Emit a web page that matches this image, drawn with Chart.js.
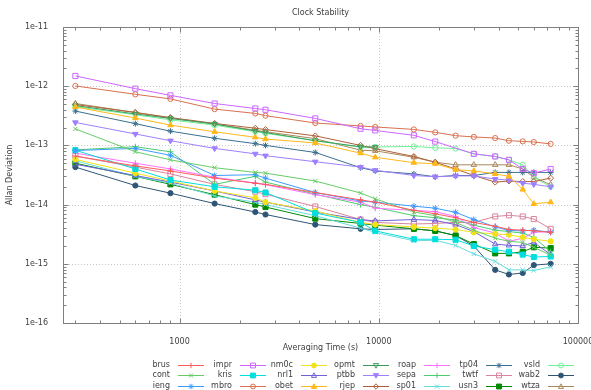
<!DOCTYPE html>
<html><head><meta charset="utf-8">
<script src="https://cdn.jsdelivr.net/npm/chart.js@4"></script>
<style>html,body{margin:0;padding:0;background:#fff}canvas{display:block}</style>
</head><body>
<canvas id="c" width="591" height="390"></canvas>
<script>
// Averaging times (s)
const tau = [300, 600, 900, 1500, 2400, 2700, 4800, 8100, 9600, 15000, 19200, 24300, 30000, 38400, 45000, 52800, 60000, 72900];
const xTicks = [1000, 10000, 100000];
const yTicks = [1e-16, 1e-15, 1e-14, 1e-13, 1e-12, 1e-11];
const names = ["brus","cont","ieng","impr","kris","mbro","nm0c","nrl1","obet","opmt","ptbb","rjep","roap","sepa","sp01","tp04","twtf","usn3","vsld","wab2","wtza"];

const brus = [6.6e-14, 4.5e-14, 3.7e-14, 2.8e-14, 2.3e-14, 2.2e-14, 1.6e-14, 1.2e-14, 1.1e-14, 8.0e-15, 7.0e-15, 6.0e-15, 5.0e-15, 4.3e-15, 3.8e-15, 3.7e-15, 3.6e-15, 3.4e-15];
const cont = [1.9e-13, 7.8e-14, 5.7e-14, 4.2e-14, 3.5e-14, 3.4e-14, 2.5e-14, 1.57e-14, 1.25e-14, 7.5e-15, 6.5e-15, 5.0e-15, 3.7e-15, 2.7e-15, 2.4e-15, 2.3e-15, 1.9e-15, 1.4e-15];
const ieng = [8.2e-14, 8.9e-14, 6.8e-14, 3.1e-14, 3.2e-14, 2.8e-14, 1.6e-14, 1.15e-14, 1.1e-14, 9.4e-15, 8.7e-15, 7.4e-15, 5.6e-15, 4.2e-15, 3.65e-15, 3.6e-15, 3.7e-15, 3.4e-15];
const impr = [1.49e-12, 9.1e-13, 7.0e-13, 5.1e-13, 4.2e-13, 4.0e-13, 2.86e-13, 1.91e-13, 1.79e-13, 1.48e-13, 1.16e-13, null, 7.2e-14, 6.5e-14, 5.7e-14, 4.0e-14, 3.4e-14, 4.0e-14];
const kris = [8.3e-14, 4.0e-14, 2.6e-14, 2.0e-14, 1.75e-14, 1.6e-14, 7.2e-15, 5.0e-15, 3.6e-15, 2.6e-15, 2.6e-15, 2.55e-15, 2.0e-15, 1.73e-15, 1.6e-15, 1.43e-15, 1.3e-15, 1.33e-15];
const mbro = [1.01e-12, 7.3e-13, 6.1e-13, 4.1e-13, 3.47e-13, 3.18e-13, 2.39e-13, 2.13e-13, 2.05e-13, 1.86e-13, 1.66e-13, 1.46e-13, 1.39e-13, 1.33e-13, 1.2e-13, 1.17e-13, 1.14e-13, 1.06e-13];
const nm0c = [5.8e-14, 3.4e-14, 2.5e-14, 1.7e-14, 1.3e-14, 1.1e-14, 7.8e-15, 5.0e-15, 4.6e-15, 4.2e-15, 4.0e-15, 3.8e-15, 3.4e-15, 3.2e-15, 3.1e-15, 2.8e-15, 2.6e-15, 2.4e-15];
const nrl1 = [4.8e-14, 3.1e-14, 2.4e-14, 1.7e-14, 1.2e-14, 1.1e-14, 7.5e-15, 5.6e-15, 5.3e-15, 5.6e-15, 5.4e-15, 4.6e-15, 3.5e-15, 2.15e-15, 2.05e-15, 2.0e-15, 2.3e-15, 1.43e-15];
const obet = [4.45e-13, 2.9e-13, 2.2e-13, 1.7e-13, 1.37e-13, 1.28e-13, 1.1e-13, 7.4e-14, 6.3e-14, 5.1e-14, 4.9e-14, 3.9e-14, 3.7e-14, 3.3e-14, 3.0e-14, 1.8e-14, 1.03e-14, 1.1e-14];
const opmt = [4.7e-13, 3.4e-13, 2.85e-13, 2.3e-13, 1.75e-13, 1.65e-13, 1.2e-13, 9.5e-14, 9.4e-14, null, null, null, null, null, null, null, null, null];
const ptbb = [2.44e-13, 1.56e-13, 1.2e-13, 8.9e-14, 7.2e-14, 6.7e-14, 5.3e-14, 4.3e-14, 3.8e-14, 3.1e-14, 2.95e-14, 3.05e-14, 3.05e-14, 2.7e-14, 2.6e-14, 2.3e-14, 2.2e-14, 2.0e-14];
const rjep = [4.9e-13, 3.6e-13, 2.95e-13, 2.35e-13, 1.95e-13, 1.85e-13, 1.45e-13, 1.0e-13, 8.8e-14, 6.5e-14, 5.2e-14, 4.0e-14, 3.1e-14, 2.4e-14, 2.5e-14, 2.45e-14, 2.45e-14, 2.8e-14];
const roap = [7.4e-14, 5.0e-14, 4.0e-14, 2.9e-14, 2.3e-14, 2.17e-14, 1.47e-14, 1.1e-14, 8.7e-15, 8.0e-15, 7.6e-15, 6.3e-15, 4.1e-15, 3.3e-15, 2.4e-15, 2.7e-15, 3.4e-15, 3.5e-15];
const sepa = [8.4e-14, 9.5e-14, 7.8e-14, 2.2e-14, 3.0e-14, 2.4e-14, 1.5e-14, 1.0e-14, 9.0e-15, 6.5e-15, 6.0e-15, 5.5e-15, 4.5e-15, 3.7e-15, 3.5e-15, 3.3e-15, 2.8e-15, 1.6e-15];
const sp01 = [5.5e-14, 3.0e-14, 2.3e-14, 1.4e-14, 1.1e-14, 1.0e-14, 6.5e-15, 4.0e-15, 3.4e-15, 2.45e-15, 2.5e-15, 2.05e-15, 1.47e-15, 1.1e-15, 7.9e-16, 7.9e-16, 7.7e-16, 8.9e-16];
const tp04 = [3.8e-13, 2.33e-13, 1.74e-13, 1.32e-13, 1.07e-13, 1.0e-13, 7.6e-14, 4.2e-14, 3.7e-14, 3.3e-14, 2.95e-14, 3.1e-14, 3.1e-14, 3.5e-14, 3.5e-14, 3.5e-14, 3.5e-14, 3.5e-14];
const twtf = [6.6e-14, 4.3e-14, 3.3e-14, 2.2e-14, 1.65e-14, 1.5e-14, 9.3e-15, 5.6e-15, 5.0e-15, 4.7e-15, 4.8e-15, 5.0e-15, 5.0e-15, 6.3e-15, 6.6e-15, 6.3e-15, 5.7e-15, 3.9e-15];
const usn3 = [5.0e-14, 3.0e-14, 2.2e-14, 1.47e-14, 1.0e-14, 9.1e-15, 5.8e-15, 4.8e-15, 4.5e-15, 3.9e-15, 3.6e-15, 3.0e-15, 2.15e-15, 1.5e-15, 1.5e-15, 1.6e-15, 1.9e-15, 1.84e-15];
const vsld = [4.5e-13, 3.3e-13, 2.7e-13, 2.2e-13, 1.7e-13, 1.6e-13, 1.2e-13, 9.3e-14, 9.4e-14, 9.6e-14, 9.1e-14, 8.85e-14, 7.2e-14, 6.5e-14, 5.7e-14, 4.7e-14, 2.9e-14, 2.0e-14];
const wab2 = [4.3e-14, 2.1e-14, 1.56e-14, 1.04e-14, 7.5e-15, 6.8e-15, 4.6e-15, 3.9e-15, 3.8e-15, 3.9e-15, 3.6e-15, 3.0e-15, 2.0e-15, 7.9e-16, 6.6e-16, 7.0e-16, 9.5e-16, 1.0e-15];
const wtza = [5.1e-13, 3.6e-13, 2.9e-13, 2.3e-13, 1.8e-13, 1.7e-13, 1.3e-13, 8.3e-14, 8.1e-14, 6.3e-14, 5.2e-14, 4.7e-14, 4.7e-14, 4.7e-14, 4.7e-14, 4.0e-14, 2.9e-14, 2.17e-14];

const values = {brus, cont, ieng, impr, kris, mbro, nm0c, nrl1, obet, opmt, ptbb, rjep, roap, sepa, sp01, tp04, twtf, usn3, vsld, wab2, wtza};

// styles: [color, pointStyle, filled, rotation]
const styles = {
  brus: ['#ff5b5b', 'cross', false, 0],
  cont: ['#66cc66', 'crossRot', false, 0],
  ieng: ['#3d9bff', 'star', false, 0],
  impr: ['#cc66ff', 'rect', false, 0],
  kris: ['#00dede', 'rect', true, 0],
  mbro: ['#d9704f', 'circle', false, 0],
  nm0c: ['#f2e21a', 'circle', true, 0],
  nrl1: ['#7060d8', 'triangle', false, 0],
  obet: ['#ffb81a', 'triangle', true, 0],
  opmt: ['#3c9c5c', 'triangle', false, 180],
  ptbb: ['#9f7fff', 'triangle', true, 180],
  rjep: ['#b0603a', 'rectRot', false, 0],
  roap: ['#ff70ff', 'cross', false, 0],
  sepa: ['#4ccc70', 'cross', false, 0],
  sp01: ['#66dcdc', 'crossRot', false, 0],
  tp04: ['#3a6f8f', 'star', false, 0],
  twtf: ['#d8849c', 'rect', false, 0],
  usn3: ['#008a00', 'rect', true, 0],
  vsld: ['#70f29a', 'circle', false, 0],
  wab2: ['#2f5576', 'circle', true, 0],
  wtza: ['#a8885a', 'triangle', false, 0]
};

const radiusFor = ps => ps === 'rect' ? 3.6 : ps === 'circle' ? 2.6 : ps === 'triangle' ? 3.2 : 3;

const datasets = names.map(n => {
  const [col, ps, filled, rot] = styles[n];
  const pts = [];
  values[n].forEach((v, i) => { if (v != null) pts.push({x: tau[i], y: v}); });
  return {
    label: n, data: pts, borderColor: col, backgroundColor: filled ? col : 'rgba(0,0,0,0)',
    pointStyle: ps, pointRotation: rot, pointRadius: radiusFor(ps), pointBorderWidth: 1,
    pointBackgroundColor: filled ? col : 'rgba(0,0,0,0)', pointBorderColor: col,
    borderWidth: 1, fill: false, tension: 0, spanGaps: true
  };
});

const isDecade = v => Math.abs(Math.log10(v) - Math.round(Math.log10(v))) < 1e-6;
const FONT = 'DejaVu Sans';
const TXT = '#404040';
const AXC = '#808080';

function marker(ctx, n, x, y) {
  const [col, ps, filled, rot] = styles[n];
  const r = 2.7;
  ctx.save();
  ctx.strokeStyle = col; ctx.fillStyle = col; ctx.lineWidth = 1;
  ctx.translate(x, y); ctx.rotate(rot * Math.PI / 180);
  ctx.beginPath();
  if (ps === 'cross') { ctx.moveTo(-r, 0); ctx.lineTo(r, 0); ctx.moveTo(0, -r); ctx.lineTo(0, r); ctx.stroke(); }
  else if (ps === 'crossRot') { const d = r * 0.75; ctx.moveTo(-d, -d); ctx.lineTo(d, d); ctx.moveTo(-d, d); ctx.lineTo(d, -d); ctx.stroke(); }
  else if (ps === 'star') { const d = r * 0.75; ctx.moveTo(-r, 0); ctx.lineTo(r, 0); ctx.moveTo(0, -r); ctx.lineTo(0, r); ctx.moveTo(-d, -d); ctx.lineTo(d, d); ctx.moveTo(-d, d); ctx.lineTo(d, -d); ctx.stroke(); }
  else {
    if (ps === 'rect') ctx.rect(-r * 0.9, -r * 0.9, r * 1.8, r * 1.8);
    else if (ps === 'rectRot') { ctx.moveTo(0, -r); ctx.lineTo(r, 0); ctx.lineTo(0, r); ctx.lineTo(-r, 0); ctx.closePath(); }
    else if (ps === 'circle') ctx.arc(0, 0, r * 0.9, 0, Math.PI * 2);
    else if (ps === 'triangle') { ctx.moveTo(0, -r); ctx.lineTo(r * 0.95, r * 0.7); ctx.lineTo(-r * 0.95, r * 0.7); ctx.closePath(); }
    if (filled) ctx.fill();
    ctx.stroke();
  }
  ctx.restore();
}

const frame = {
  id: 'frame',
  beforeDatasetsDraw(chart) {
    const {ctx, chartArea: a, scales: {x, y}} = chart;
    ctx.save();
    ctx.strokeStyle = '#c8c8c8'; ctx.lineWidth = 1; ctx.setLineDash([1, 2]);
    xTicks.forEach(t => { const px = Math.round(x.getPixelForValue(t)) + 0.5; if (px > a.left + 1 && px < a.right - 1) { ctx.beginPath(); ctx.moveTo(px, a.top); ctx.lineTo(px, a.bottom); ctx.stroke(); } });
    yTicks.forEach(t => { const py = Math.round(y.getPixelForValue(t)) + 0.5; if (py > a.top + 1 && py < a.bottom - 1) { ctx.beginPath(); ctx.moveTo(a.left, py); ctx.lineTo(a.right, py); ctx.stroke(); } });
    ctx.restore();
  },
  afterDatasetsDraw(chart) {
    const {ctx, chartArea: a, scales: {x, y}} = chart;
    ctx.save();
    ctx.strokeStyle = AXC; ctx.lineWidth = 1; ctx.setLineDash([]);
    const L = Math.round(a.left) + 0.5, R = Math.round(a.right) + 0.5, T = Math.round(a.top) + 0.5, B = Math.round(a.bottom) + 0.5;
    ctx.strokeRect(L, T, R - L, B - T);
    ctx.beginPath();
    for (let e = 2; e <= 5; e++) for (let m = 1; m <= 9; m++) {
      const v = m * Math.pow(10, e);
      if (v < x.min || v > x.max) continue;
      const px = Math.round(x.getPixelForValue(v)) + 0.5;
      const len = m === 1 ? 5 : 3;
      ctx.moveTo(px, B); ctx.lineTo(px, B - len);
      ctx.moveTo(px, T); ctx.lineTo(px, T + len);
    }
    for (let e = -16; e <= -11; e++) for (let m = 1; m <= 9; m++) {
      const v = m * Math.pow(10, e);
      if (v < y.min * 0.999 || v > y.max * 1.001) continue;
      const py = Math.round(y.getPixelForValue(v)) + 0.5;
      const len = m === 1 ? 5 : 3;
      ctx.moveTo(L, py); ctx.lineTo(L + len, py);
      ctx.moveTo(R, py); ctx.lineTo(R - len, py);
    }
    ctx.stroke();
    // titles
    ctx.fillStyle = TXT; ctx.font = '8px "' + FONT + '"';
    ctx.textAlign = 'center'; ctx.textBaseline = 'middle';
    const cx = (a.left + a.right) / 2;
    ctx.fillText('Clock Stability', cx, 13);
    ctx.fillText('Averaging Time (s)', cx, 348);
    ctx.save(); ctx.translate(10, (a.top + a.bottom) / 2); ctx.rotate(-Math.PI / 2);
    ctx.fillText('Allan Deviation', 0, 0); ctx.restore();
    // legend (column-major, 3 rows)
    const colRight = [170, 232, 293, 355, 416, 478, 540];
    const rowY = [364.5, 375, 385.5];
    chart.data.datasets.forEach((ds, i) => {
      const c = Math.floor(i / 3), r = i % 3;
      const xr = colRight[c], yy = rowY[r];
      ctx.fillStyle = TXT; ctx.textAlign = 'right'; ctx.textBaseline = 'middle';
      ctx.fillText(ds.label, xr, yy);
      const ly = Math.round(yy) + 0.5;
      ctx.strokeStyle = ds.borderColor; ctx.lineWidth = 1;
      ctx.beginPath(); ctx.moveTo(xr + 8, ly); ctx.lineTo(xr + 34, ly); ctx.stroke();
      marker(ctx, ds.label, xr + 21, ly);
    });
    ctx.restore();
  }
};

new Chart(document.getElementById('c'), {
  type: 'line',
  data: {datasets},
  options: {
    responsive: false, animation: false, devicePixelRatio: 1,
    layout: {padding: {top: 27, right: 13, left: 0, bottom: 0}},
    plugins: {legend: {display: false}, title: {display: false}, tooltip: {enabled: false}},
    scales: {
      x: {
        type: 'logarithmic', min: 260, max: 100000,
        grid: {display: false}, border: {display: false},
        ticks: {autoSkip: false, maxRotation: 0, padding: 6, color: TXT, font: {family: FONT, size: 8},
          callback: v => (isDecade(v) && xTicks.includes(Math.round(v))) ? String(Math.round(v)) : null},
        afterFit: s => { s.height = 67; s.paddingLeft = 0; s.paddingRight = 0; }
      },
      y: {
        type: 'logarithmic', min: 1e-16, max: 1e-11,
        grid: {display: false}, border: {display: false},
        ticks: {autoSkip: false, padding: 7, color: TXT, font: {family: FONT, size: 8},
          callback: v => isDecade(v) ? '1e' + Math.round(Math.log10(v)) : null},
        afterFit: s => { s.width = 63; s.paddingTop = 0; s.paddingBottom = 0; }
      }
    }
  },
  plugins: [frame]
});
</script>
</body></html>
